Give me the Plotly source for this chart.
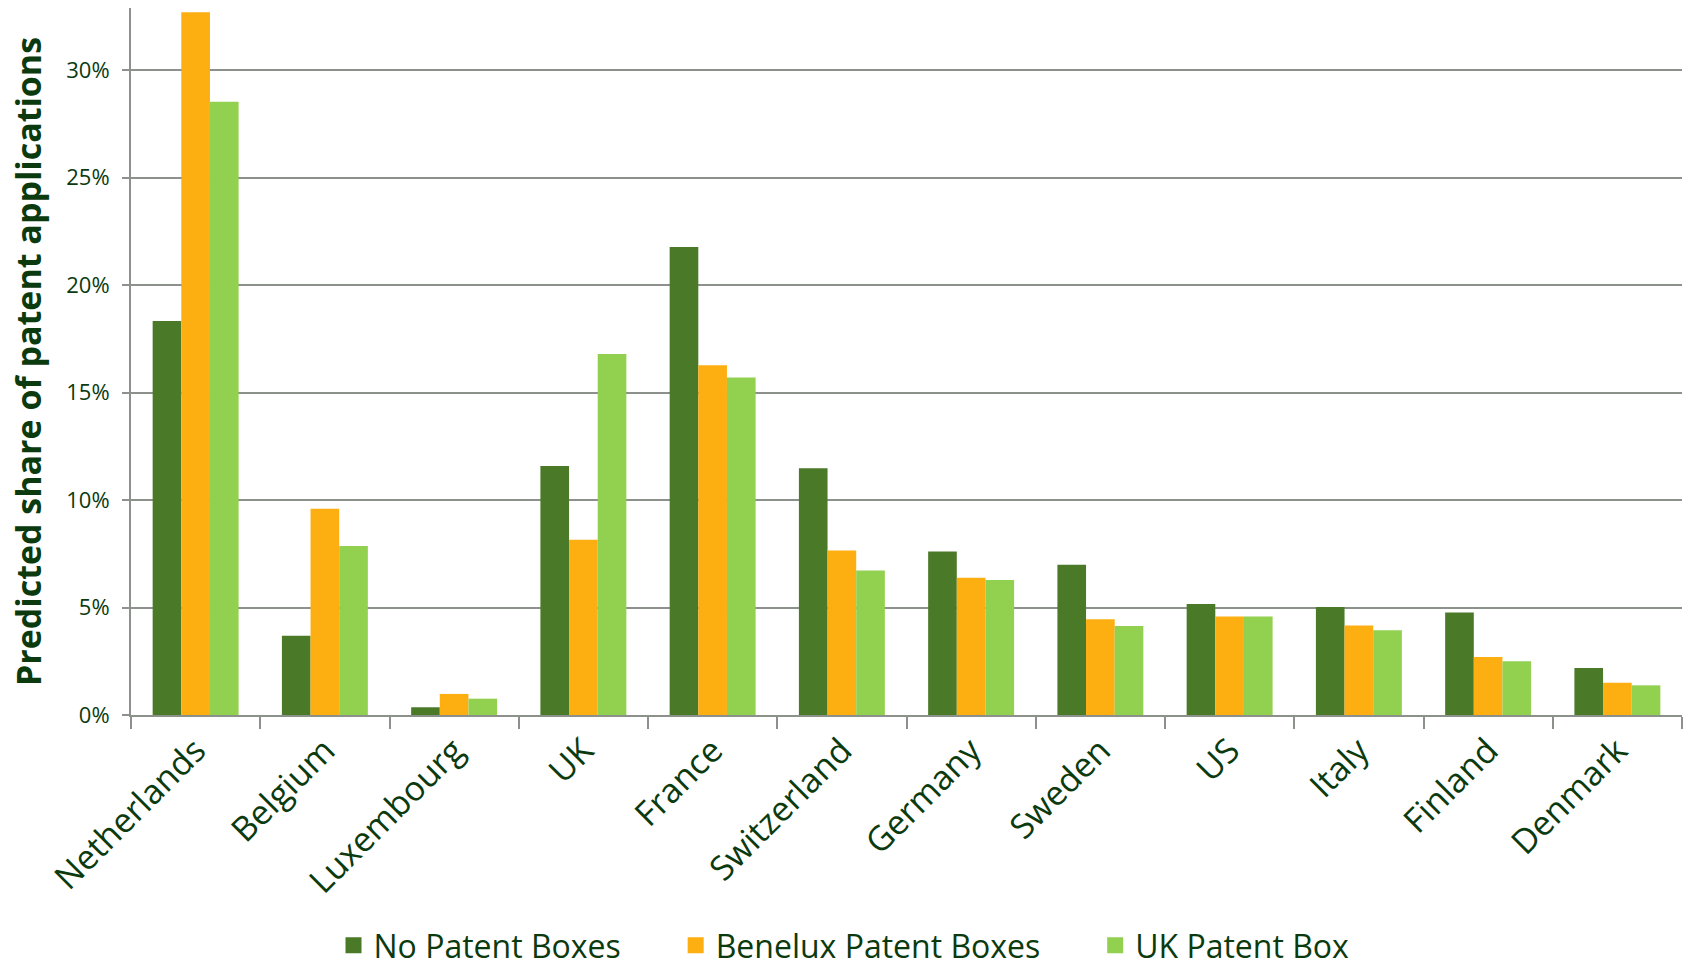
import plotly.graph_objects as go

countries = ["Netherlands", "Belgium", "Luxembourg", "UK", "France", "Switzerland",
             "Germany", "Sweden", "US", "Italy", "Finland", "Denmark"]
no_patent_boxes = [18.34, 3.69, 0.36, 11.59, 21.78, 11.48, 7.61, 6.99, 5.16, 5.02, 4.77, 2.19]
benelux_patent_boxes = [32.70, 9.60, 0.98, 8.15, 16.27, 7.65, 6.39, 4.45, 4.58, 4.17, 2.70, 1.50]
uk_patent_box = [28.54, 7.87, 0.76, 16.80, 15.71, 6.73, 6.28, 4.14, 4.58, 3.94, 2.50, 1.38]

series_names = ["No Patent Boxes", "Benelux Patent Boxes", "UK Patent Box"]
series_colors = ["#4A7A28", "#FDAE10", "#92D050"]
text_color = "#0B3A0E"
grid_color = "#8C918C"
font_family = "Open Sans"

fig = go.Figure()
for i, (name, vals, col) in enumerate(zip(series_names,
                                          [no_patent_boxes, benelux_patent_boxes, uk_patent_box],
                                          series_colors)):
    fig.add_trace(go.Bar(x=countries, y=vals, name=name, showlegend=False,
                         legendgroup=name,
                         marker=dict(color=col, line=dict(width=0))))
    # legend entry with a larger square swatch
    pad = "\u00a0" * 6 if i < len(series_names) - 1 else ""
    fig.add_trace(go.Scatter(x=[None], y=[None], mode="markers", name=name + pad,
                             legendgroup=name,
                             marker=dict(symbol="square", size=20, color=col)))

fig.update_layout(
    width=1688, height=971,
    paper_bgcolor="white", plot_bgcolor="white",
    margin=dict(l=131, r=6, t=8, b=256, autoexpand=False),
    barmode="group", bargap=0.335, bargroupgap=0,
    font=dict(family=font_family, color=text_color),
    showlegend=True,
    legend=dict(orientation="h", xref="container", yref="paper",
                x=0.5, xanchor="center", y=-0.326, yanchor="middle",
                font=dict(size=32, color=text_color, family=font_family),
                itemwidth=30, traceorder="normal",
                bgcolor="rgba(0,0,0,0)"),
)

fig.update_xaxes(
    type="category", tickangle=-45, tickson="boundaries", automargin=False,
    ticks="outside", ticklen=12, tickwidth=2, tickcolor=grid_color,
    showline=True, linecolor=grid_color, linewidth=2,
    showgrid=False,
    tickfont=dict(size=34, color=text_color, family=font_family),
)
fig.update_yaxes(
    range=[0, 32.9], dtick=5, ticksuffix="%", automargin=False,
    showgrid=True, gridcolor=grid_color, gridwidth=2,
    zeroline=False,
    showline=True, linecolor=grid_color, linewidth=2,
    ticks="outside", ticklen=7, tickwidth=2, tickcolor=grid_color,
    ticklabelstandoff=8,
    tickfont=dict(size=22, color=text_color, family=font_family),
    title=dict(text="<b>Predicted share of patent applications</b>",
               font=dict(size=34, color=text_color, family=font_family),
               standoff=14),
)

fig.write_html("out.html",
               config={"displayModeBar": False},
               post_script="document.body.style.margin='0';document.body.style.overflow='hidden';")
